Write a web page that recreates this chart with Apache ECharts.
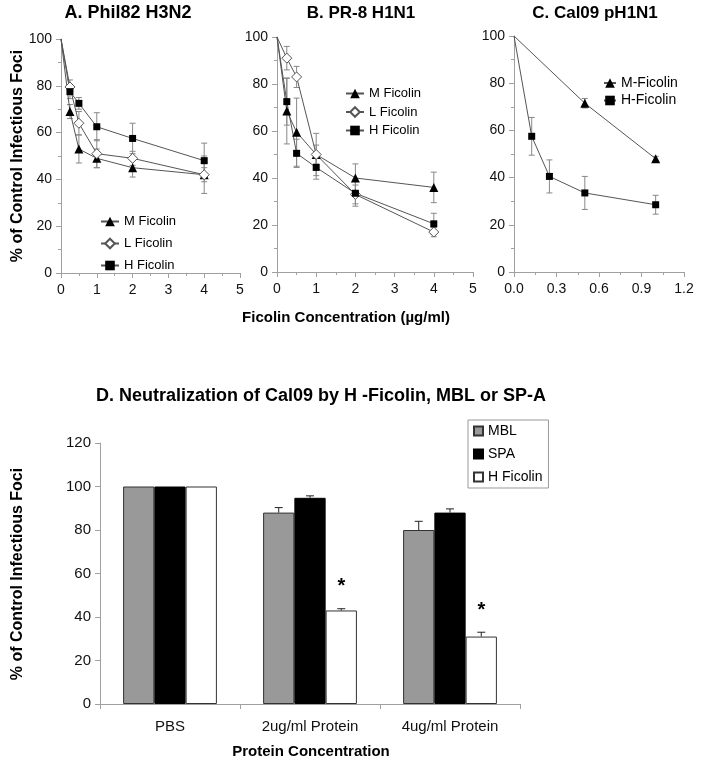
<!DOCTYPE html>
<html><head><meta charset="utf-8">
<script src="https://cdn.jsdelivr.net/npm/echarts@6/dist/echarts.min.js"></script>
<style>html,body{margin:0;padding:0;background:#fff}#c{width:704px;height:769px}</style>
</head><body><div id="c"></div>
<script>
// ---- Panel A: Phil82 H3N2 ----
const xA = [0, 0.25, 0.5, 1, 2, 4];
const aM = [100, 69, 53, 49, 45, 42];
const aMerr = [0, 3, 6, 4, 4, 3];
const aL = [100, 79.5, 64, 51, 49, 42];
const aLerr = [0, 3, 5, 6, 3, 8];
const aH = [100, 77.5, 72.5, 62.5, 57.5, 48];
const aHerr = [0, 3, 2.5, 6, 6.5, 7.5];
// ---- Panel B: PR-8 H1N1 ----
const xB = [0, 0.25, 0.5, 1, 2, 4];
const bM = [100, 68.5, 59.5, 50, 40, 36];
const bMerr = [0, 14, 14.5, 4, 6, 6.5];
const bL = [100, 91, 83, 50, 33, 17];
const bLerr = [0, 5, 4.5, 9, 4, 2];
const bH = [100, 72.5, 50.5, 44.5, 33.5, 20.5];
const bHerr = [0, 10, 6, 5, 5.5, 4.5];
// ---- Panel C: Cal09 pH1N1 ----
const xCM = [0, 0.5, 1.0];
const cM = [100, 71.5, 48];
const cMerr = [0, 2, 1];
const xCH = [0, 0.125, 0.25, 0.5, 1.0];
const cH = [100, 57.5, 40.5, 33.5, 28.5];
const cHerr = [0, 8, 7, 7, 4];
// ---- Panel D ----
const dCats = ['PBS', '2ug/ml Protein', '4ug/ml Protein'];
const dMBL = [100, 88, 80];
const dMBLerr = [0, 2.3, 4];
const dSPA = [100, 94.8, 88];
const dSPAerr = [0, 0.9, 1.7];
const dHF = [100, 43, 31];
const dHFerr = [0, 0.8, 2];
const dSig = [false, true, true];

const FONT = '"Liberation Sans", Arial, sans-serif';
const LINE = '#555';
const ERR = '#888';
const AXIS = '#a0a0a0';

function pts(xs, ys) {
  return xs.map((x, i) => x === 0 ? {value: [x, ys[i]], symbol: 'none'} : {value: [x, ys[i]]});
}
function errData(xs, ys, es) { return xs.map((x, i) => [x, ys[i], es[i]]); }

function errRender(params, api) {
  const e = api.value(2);
  if (!e) return null;
  const x = api.value(0), y = api.value(1);
  const t = api.coord([x, y + e]), b = api.coord([x, y - e]);
  const c = 3, st = {stroke: ERR, lineWidth: 1};
  return {type: 'group', children: [
    {type: 'line', shape: {x1: t[0], y1: t[1], x2: b[0], y2: b[1]}, style: st},
    {type: 'line', shape: {x1: t[0] - c, y1: t[1], x2: t[0] + c, y2: t[1]}, style: st},
    {type: 'line', shape: {x1: b[0] - c, y1: b[1], x2: b[0] + c, y2: b[1]}, style: st}
  ]};
}

const sym = {
  M: {symbol: 'triangle', symbolSize: 9, itemStyle: {color: '#000'}},
  L: {symbol: 'diamond', symbolSize: 10, itemStyle: {color: '#fff', borderColor: '#555', borderWidth: 1}},
  H: {symbol: 'rect', symbolSize: 7, itemStyle: {color: '#000'}}
};

function lineSeries(name, xs, ys, gi, s) {
  return Object.assign({
    type: 'line', name: name, xAxisIndex: gi, yAxisIndex: gi, data: pts(xs, ys),
    lineStyle: {color: LINE, width: 1}, z: 3, animation: false
  }, s);
}
function errSeries(xs, ys, es, gi) {
  return {type: 'custom', xAxisIndex: gi, yAxisIndex: gi, data: errData(xs, ys, es),
    encode: {x: 0, y: 1}, renderItem: errRender, z: 1, silent: true, animation: false};
}

function barErr(slot, vals, errs) {
  return {
    type: 'custom', xAxisIndex: 3, yAxisIndex: 3, z: 5, silent: true, animation: false,
    data: vals.map((v, i) => [i, v, errs[i], (slot === 2 && dSig[i]) ? 1 : 0]),
    encode: {x: 0, y: 1},
    renderItem: function (params, api) {
      const i = api.value(0), v = api.value(1), e = api.value(2), sig = api.value(3);
      if (!e) return null;
      const band = api.size([1, 0])[0];
      const bw = band * 0.67 / 3;
      const off = (slot - 1) * bw;
      const b = api.coord([i, v]), t = api.coord([i, v + e]);
      const x = b[0] + off, c = 4;
      const st = {stroke: '#222', lineWidth: 1};
      const ch = [
        {type: 'line', shape: {x1: x, y1: b[1], x2: x, y2: t[1]}, style: st},
        {type: 'line', shape: {x1: x - c, y1: t[1], x2: x + c, y2: t[1]}, style: st}
      ];
      if (sig) ch.push({type: 'text', x: x, y: t[1] - 22,
        style: {text: '*', font: 'bold 20px ' + FONT, fill: '#000', align: 'center', verticalAlign: 'middle'}});
      return {type: 'group', children: ch};
    }
  };
}

const grids = [
  {left: 61, top: 39, width: 179, height: 234},
  {left: 277, top: 37, width: 196, height: 235},
  {left: 514, top: 36, width: 170, height: 236},
  {left: 100, top: 443, width: 420, height: 261}
];

const axLine = {show: true, lineStyle: {color: AXIS, width: 1}};
const tick = {show: true, inside: false, length: 5, lineStyle: {color: AXIS}};
const minor = {show: true, splitNumber: 2, length: 3, lineStyle: {color: AXIS}};
const lab = {color: '#111', fontSize: 14, fontFamily: FONT};

function valX(gi, max, interval, fmt) {
  return {type: 'value', gridIndex: gi, min: 0, max: max, interval: interval,
    axisLine: axLine, axisTick: tick, minorTick: minor, splitLine: {show: false},
    axisLabel: Object.assign({margin: 10, formatter: fmt}, lab)};
}
function valY(gi) {
  return {type: 'value', gridIndex: gi, min: 0, max: 100, interval: 20,
    axisLine: axLine, axisTick: tick, minorTick: minor, splitLine: {show: false},
    axisLabel: Object.assign({margin: 9}, lab)};
}

const legendText = {fontSize: 13, fontFamily: FONT, color: '#000', lineHeight: 12};

const option = {
  animation: false,
  backgroundColor: '#fff',
  grid: grids,
  xAxis: [
    valX(0, 5, 1),
    valX(1, 5, 1),
    valX(2, 1.2, 0.3, v => v.toFixed(1)),
    {type: 'category', gridIndex: 3, data: dCats,
      axisLine: axLine, axisTick: {show: true, length: 5, lineStyle: {color: AXIS}},
      axisLabel: {margin: 15, color: '#111', fontSize: 15, fontFamily: FONT}}
  ],
  yAxis: [
    valY(0), valY(1), valY(2),
    {type: 'value', gridIndex: 3, min: 0, max: 120, interval: 20,
      axisLine: axLine, axisTick: tick, splitLine: {show: false},
      axisLabel: {margin: 9, color: '#111', fontSize: 15, fontFamily: FONT}}
  ],
  legend: [
    {data: ['M Ficolin', 'L Ficolin', 'H Ficolin'], orient: 'vertical', left: 100, top: 215,
      itemWidth: 18, itemHeight: 12, itemGap: 9, padding: 0, textStyle: legendText, selectedMode: false},
    {data: ['M Ficolin ', 'L Ficolin ', 'H Ficolin '], orient: 'vertical', left: 345, top: 87,
      itemWidth: 18, itemHeight: 12, itemGap: 5.5, padding: 0, textStyle: legendText, selectedMode: false,
      formatter: n => n.trim()},
    {data: ['M-Ficolin', 'H-Ficolin'], orient: 'vertical', left: 603, top: 76,
      itemWidth: 12, itemHeight: 12, itemGap: 3.5, padding: 0, textStyle: Object.assign({}, legendText, {fontSize: 14}), selectedMode: false},
    {data: ['MBL', 'SPA', 'H Ficolin  '], orient: 'vertical', left: 468, top: 420,
      icon: 'rect', itemWidth: 9, itemHeight: 9, itemGap: 9, padding: [4, 6, 4, 5],
      borderColor: '#999', borderWidth: 1, selectedMode: false,
      textStyle: {fontSize: 14, fontFamily: FONT, color: '#000', lineHeight: 14},
      formatter: n => n.trim()}
  ],
  series: [
    errSeries(xA, aM, aMerr, 0), errSeries(xA, aL, aLerr, 0), errSeries(xA, aH, aHerr, 0),
    lineSeries('M Ficolin', xA, aM, 0, sym.M),
    lineSeries('L Ficolin', xA, aL, 0, sym.L),
    lineSeries('H Ficolin', xA, aH, 0, sym.H),
    errSeries(xB, bM, bMerr, 1), errSeries(xB, bL, bLerr, 1), errSeries(xB, bH, bHerr, 1),
    lineSeries('M Ficolin ', xB, bM, 1, sym.M),
    lineSeries('L Ficolin ', xB, bL, 1, sym.L),
    lineSeries('H Ficolin ', xB, bH, 1, sym.H),
    errSeries(xCM, cM, cMerr, 2), errSeries(xCH, cH, cHerr, 2),
    lineSeries('M-Ficolin', xCM, cM, 2, sym.M),
    lineSeries('H-Ficolin', xCH, cH, 2, sym.H),
    {type: 'bar', name: 'MBL', xAxisIndex: 3, yAxisIndex: 3, data: dMBL, barGap: '0%', barCategoryGap: '33%',
      itemStyle: {color: '#999', borderColor: '#333', borderWidth: 1}},
    {type: 'bar', name: 'SPA', xAxisIndex: 3, yAxisIndex: 3, data: dSPA, barGap: '0%', barCategoryGap: '33%',
      itemStyle: {color: '#000', borderColor: '#000', borderWidth: 1}},
    {type: 'bar', name: 'H Ficolin  ', xAxisIndex: 3, yAxisIndex: 3, data: dHF, barGap: '0%', barCategoryGap: '33%',
      itemStyle: {color: '#fff', borderColor: '#333', borderWidth: 1}},
    barErr(0, dMBL, dMBLerr), barErr(1, dSPA, dSPAerr), barErr(2, dHF, dHFerr)
  ],
  graphic: [
    {type: 'text', x: 128, y: 13, style: {text: 'A. Phil82 H3N2', font: 'bold 18px ' + FONT, fill: '#000', align: 'center', verticalAlign: 'middle'}},
    {type: 'text', x: 361, y: 13, style: {text: 'B. PR-8 H1N1', font: 'bold 17px ' + FONT, fill: '#000', align: 'center', verticalAlign: 'middle'}},
    {type: 'text', x: 595, y: 13, style: {text: 'C. Cal09 pH1N1', font: 'bold 17px ' + FONT, fill: '#000', align: 'center', verticalAlign: 'middle'}},
    {type: 'text', x: 18, y: 156, rotation: Math.PI / 2, style: {text: '% of Control Infectious Foci', font: 'bold 16px ' + FONT, fill: '#000', align: 'center', verticalAlign: 'middle'}},
    {type: 'text', x: 346, y: 318, style: {text: 'Ficolin Concentration (µg/ml)', font: 'bold 15px ' + FONT, fill: '#000', align: 'center', verticalAlign: 'middle'}},
    {type: 'text', x: 321, y: 396, style: {text: 'D. Neutralization of Cal09 by H -Ficolin, MBL or SP-A', font: 'bold 18px ' + FONT, fill: '#000', align: 'center', verticalAlign: 'middle'}},
    {type: 'text', x: 18, y: 574, rotation: Math.PI / 2, style: {text: '% of Control Infectious Foci', font: 'bold 16px ' + FONT, fill: '#000', align: 'center', verticalAlign: 'middle'}},
    {type: 'text', x: 311, y: 752, style: {text: 'Protein Concentration', font: 'bold 15px ' + FONT, fill: '#000', align: 'center', verticalAlign: 'middle'}}
  ]
};

const chart = echarts.init(document.getElementById('c'), null, {renderer: 'canvas'});
chart.setOption(option);
</script>
</body></html>
